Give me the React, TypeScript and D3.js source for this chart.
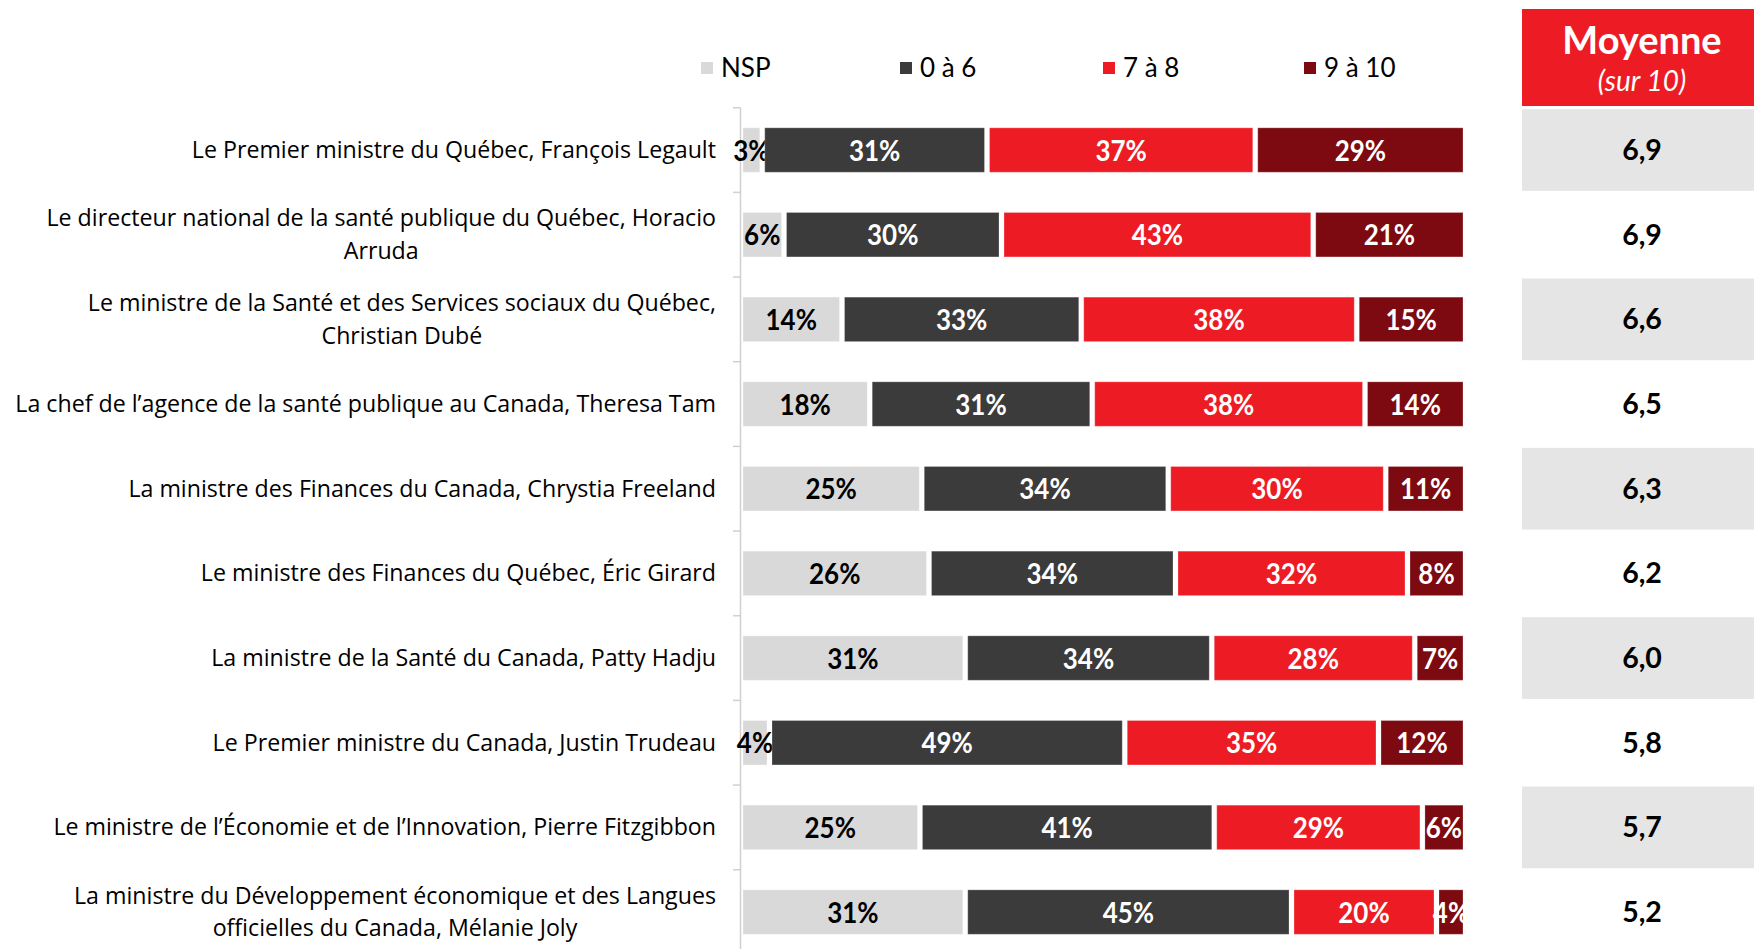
import React, { useEffect, useRef } from "react";
import * as d3 from "d3";

const categories: string[][] = [
  ["Le Premier ministre du Québec, François Legault"],
  ["Le directeur national de la santé publique du Québec, Horacio", "Arruda"],
  ["Le ministre de la Santé et des Services sociaux du Québec,", "Christian Dubé"],
  ["La chef de l’agence de la santé publique au Canada, Theresa Tam"],
  ["La ministre des Finances du Canada, Chrystia Freeland"],
  ["Le ministre des Finances du Québec, Éric Girard"],
  ["La ministre de la Santé du Canada, Patty Hadju"],
  ["Le Premier ministre du Canada, Justin Trudeau"],
  ["Le ministre de l’Économie et de l’Innovation, Pierre Fitzgibbon"],
  ["La ministre du Développement économique et des Langues", "officielles du Canada, Mélanie Joly"],
];

const seriesNames = ["NSP", "0 à 6", "7 à 8", "9 à 10"];
const nsp = [3, 6, 14, 18, 25, 26, 31, 4, 25, 31];
const zeroToSix = [31, 30, 33, 31, 34, 34, 34, 49, 41, 45];
const sevenToEight = [37, 43, 38, 38, 30, 32, 28, 35, 29, 20];
const nineToTen = [29, 21, 15, 14, 11, 8, 7, 12, 6, 4];
const means = ["6,9", "6,9", "6,6", "6,5", "6,3", "6,2", "6,0", "5,8", "5,7", "5,2"];

const colors = ["#d9d9d9", "#3b3b3b", "#ed1c24", "#7c0a10"];
const labelColors = ["#000000", "#ffffff", "#ffffff", "#ffffff"];

const FONT = "Lato, 'Open Sans', sans-serif";
const LABEL_FONT = "'Open Sans', Lato, sans-serif";

export default function App() {
  const ref = useRef<SVGSVGElement | null>(null);

  useEffect(() => {
    const svg = d3.select(ref.current);
    svg.selectAll("*").remove();

    const series = [nsp, zeroToSix, sevenToEight, nineToTen];
    const idx = d3.range(categories.length);

    const y = d3
      .scaleBand<number>()
      .domain(idx)
      .range([107.7, 107.7 + 84.67 * categories.length])
      .paddingInner(0.475)
      .paddingOuter(0.2375);
    const x = d3.scaleLinear().domain([0, 1]).range([740.5, 1465.5]);
    const inset = 2.5;

    // Moyenne column
    const colX0 = 1522;
    const colX1 = 1754;
    const colCx = 1642;
    svg.append("rect").attr("x", colX0).attr("y", 9).attr("width", colX1 - colX0).attr("height", 97).attr("fill", "#ed1c24");
    svg.append("text").attr("x", colCx).attr("y", 54).attr("text-anchor", "middle")
      .attr("font-family", FONT).attr("font-weight", 700).attr("font-size", 38).attr("fill", "#fff").text("Moyenne");
    svg.append("text").attr("x", colCx).attr("y", 91).attr("text-anchor", "middle")
      .attr("font-family", FONT).attr("font-style", "italic").attr("font-size", 28).attr("fill", "#fff").text("(sur 10)");

    const step = y.step();
    idx.forEach((i) => {
      const cy = (y(i) as number) + y.bandwidth() / 2;
      if (i % 2 === 0) {
        svg.append("rect").attr("x", colX0).attr("y", cy - step / 2 + 1.5)
          .attr("width", colX1 - colX0).attr("height", step - 3).attr("fill", "#e5e5e5");
      }
      svg.append("text").attr("x", colCx).attr("y", cy + 10).attr("text-anchor", "middle")
        .attr("font-family", FONT).attr("font-weight", 700).attr("font-size", 28.5).attr("fill", "#000")
        .text(means[i]);
    });

    // Legend
    const legendX = [701, 900, 1103, 1304];
    seriesNames.forEach((name, k) => {
      svg.append("rect").attr("x", legendX[k]).attr("y", 62).attr("width", 12).attr("height", 12).attr("fill", colors[k]);
      svg.append("text").attr("x", legendX[k] + 20).attr("y", 77).attr("font-family", FONT)
        .attr("font-size", 26).attr("fill", "#000").text(name);
    });

    // Axis line and ticks
    const axisG = svg.append("g").attr("stroke", "#d0d0d0").attr("stroke-width", 1.5);
    const top = y.range()[0];
    const bottom = y.range()[1];
    axisG.append("line").attr("x1", 740.5).attr("x2", 740.5).attr("y1", top).attr("y2", bottom);
    d3.range(categories.length + 1).forEach((j) => {
      const ty = top + j * step;
      axisG.append("line").attr("x1", 733).attr("x2", 740.5).attr("y1", ty).attr("y2", ty);
    });

    // Bars
    idx.forEach((i) => {
      const vals = series.map((s) => s[i]);
      const total = d3.sum(vals);
      let acc = 0;
      const by = y(i) as number;
      const bh = y.bandwidth();
      vals.forEach((v, k) => {
        const x0 = x(acc / total);
        const x1 = x((acc + v) / total);
        acc += v;
        svg.append("rect").attr("x", x0 + inset).attr("y", by).attr("width", Math.max(0, x1 - x0 - 2 * inset))
          .attr("height", bh).attr("fill", colors[k])
          .attr("stroke", "rgba(255,255,255,0.25)").attr("stroke-width", 1);
        svg.append("text")
          .attr("transform", `translate(${(x0 + x1) / 2},${by + bh / 2 + 10.5}) scale(0.88,1)`)
          .attr("text-anchor", "middle")
          .attr("font-family", FONT).attr("font-weight", 700).attr("font-size", 29.5)
          .attr("fill", labelColors[k]).text(`${v}%`);
      });
    });

    // Category labels
    const labelRight = 716;
    const lineH = 32.5;
    idx.forEach((i) => {
      const lines = categories[i];
      const cy = (y(i) as number) + y.bandwidth() / 2;
      const g = svg.append("g");
      const texts = lines.map((ln, j) =>
        g.append("text").attr("font-family", LABEL_FONT).attr("font-size", 23.2).attr("fill", "#000")
          .attr("y", cy + (j - (lines.length - 1) / 2) * lineH + 8).text(ln)
      );
      const widths = texts.map((t) => (t.node() as SVGTextElement).getComputedTextLength());
      const maxW = d3.max(widths) as number;
      const center = labelRight - maxW / 2;
      texts.forEach((t) => t.attr("x", center).attr("text-anchor", "middle"));
    });
  }, []);

  return (
    <svg
      ref={ref}
      width={1754}
      height={949}
      style={{ position: "absolute", left: 0, top: 0, background: "#fff" }}
    />
  );
}
